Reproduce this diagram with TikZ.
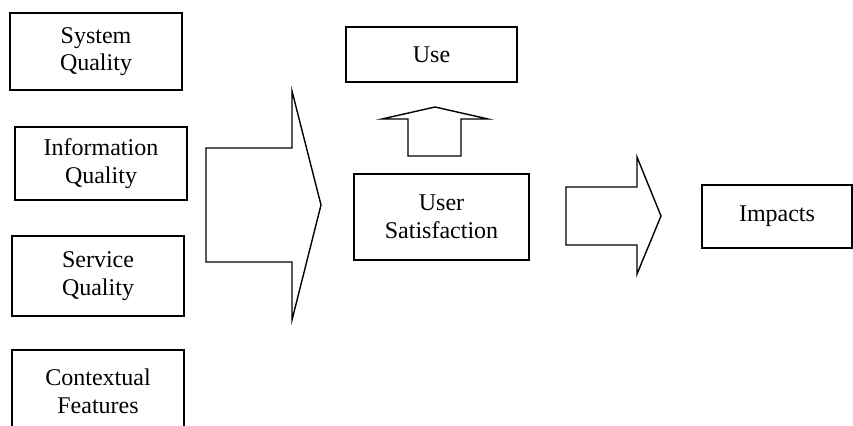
\documentclass[tikz,border=0pt]{standalone}
\usepackage{fontspec}
\setmainfont{Liberation Serif}

\begin{document}
\begin{tikzpicture}[x=0.5pt,y=-0.5pt,
  factor/.style={draw,line width=0.7pt,align=center,inner sep=0pt,font=\fontsize{12}{13.8}\selectfont},
  blockarrow/.style={draw,line width=0.7pt,line join=miter}]
\useasboundingbox (0,0) rectangle (853,426);

\node[factor,minimum width=86pt,minimum height=38.5pt] (sq) at (96,51.5) {System\\Quality};
\node[factor,minimum width=86pt,minimum height=36.5pt] (iq) at (101,163.5) {Information\\Quality};
\node[factor,minimum width=86pt,minimum height=40pt] (svq) at (98,276) {Service\\Quality};
\node[factor,minimum width=86pt,minimum height=41pt] (cf) at (98,391) {Contextual\\Features};

\node[factor,minimum width=85.5pt,minimum height=27.5pt] (use) at (431.5,54.5) {Use};
\node[factor,minimum width=87.5pt,minimum height=43pt] (us) at (441.5,217) {User\\Satisfaction};
\node[factor,minimum width=75pt,minimum height=31.5pt] (imp) at (777,216.5) {Impacts};

\draw[blockarrow] (206,148) -- (292,148) -- (292,91) -- (321,205) -- (292,320) -- (292,262) -- (206,262) -- cycle;
\draw[blockarrow] (408,156) -- (408,119) -- (382,119) -- (435,107) -- (488,119) -- (461,119) -- (461,156) -- cycle;
\draw[blockarrow] (566,187) -- (637,187) -- (637,157) -- (661,216) -- (637,274) -- (637,245) -- (566,245) -- cycle;
\end{tikzpicture}
\end{document}
